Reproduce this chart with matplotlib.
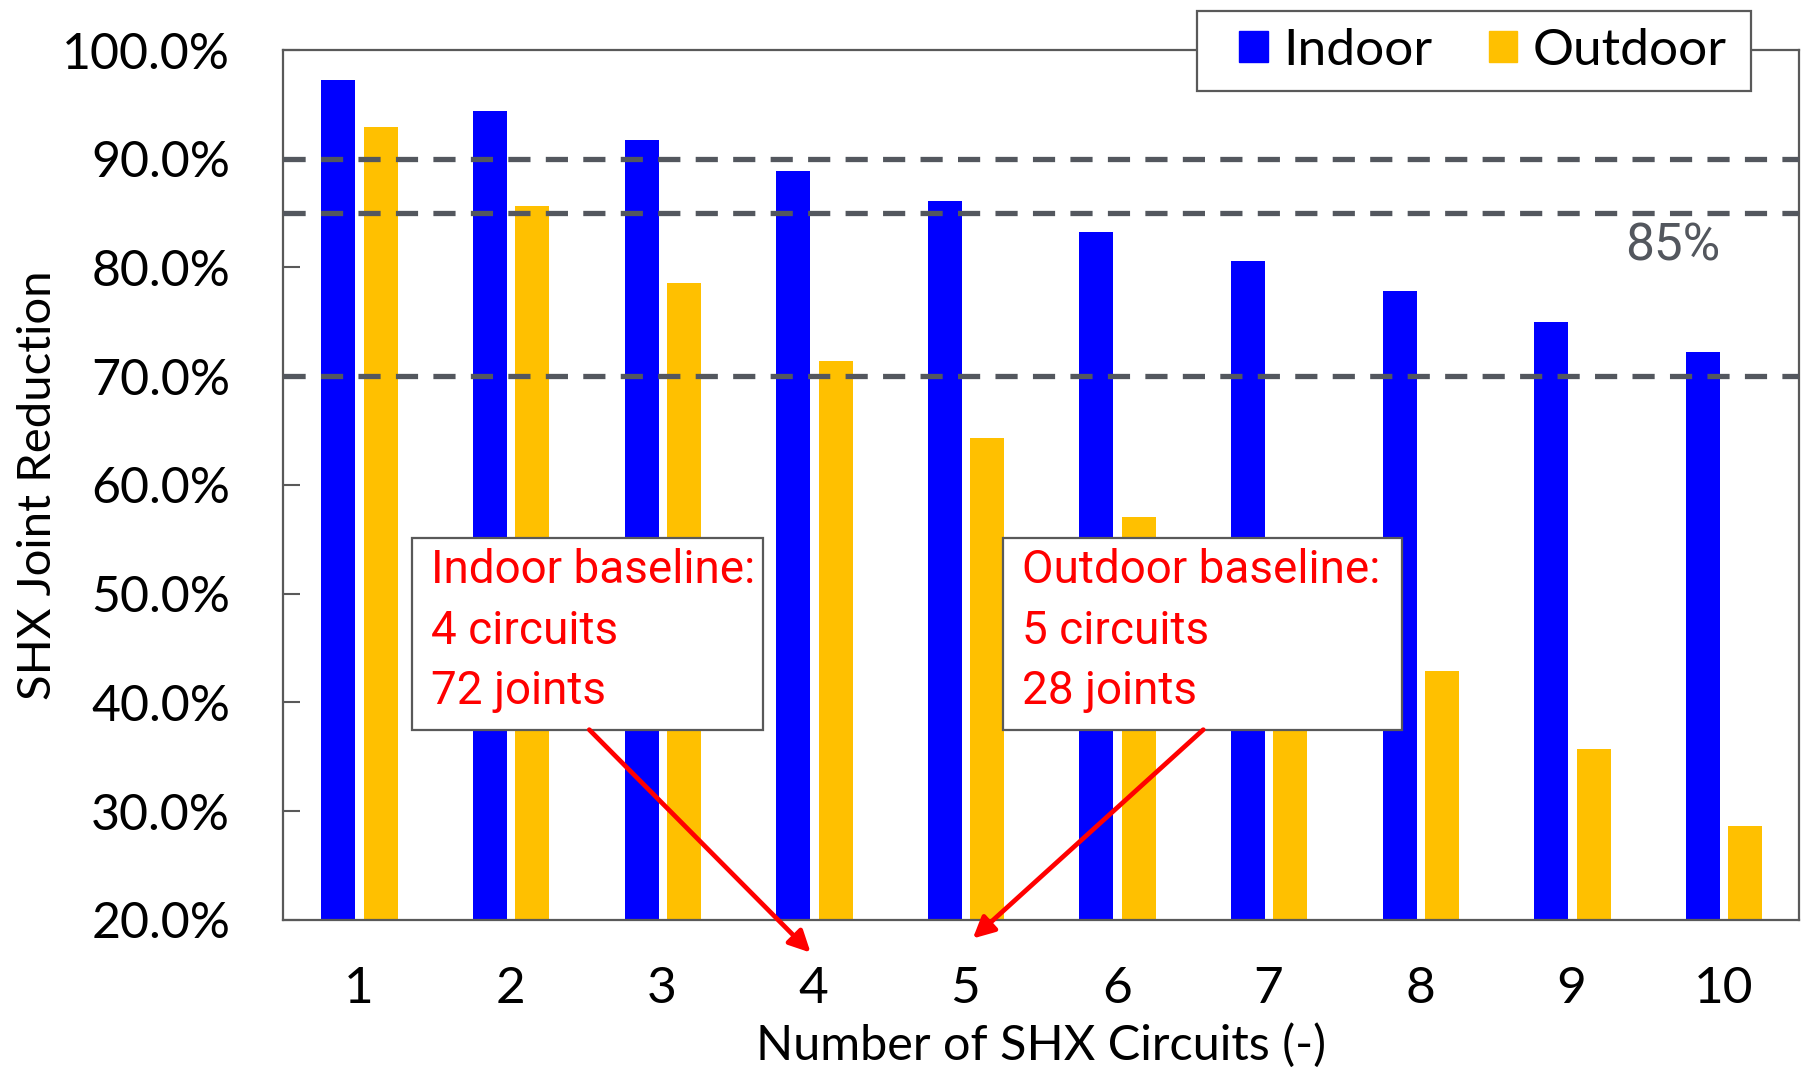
import matplotlib.pyplot as plt
from matplotlib.patches import Rectangle, Patch

# data
circuits = [1, 2, 3, 4, 5, 6, 7, 8, 9, 10]
indoor = [97.2, 94.4, 91.7, 88.9, 86.1, 83.3, 80.6, 77.8, 75.0, 72.2]
outdoor = [92.9, 85.7, 78.6, 71.4, 64.3, 57.1, 50.0, 42.9, 35.7, 28.6]
ref_lines = [90, 85, 70]
yticks = [20, 30, 40, 50, 60, 70, 80, 90, 100]

BLUE = '#0000ff'
GOLD = '#ffc000'
GREY = '#595959'
DASH = '#53575e'
RED = '#ff0000'
NARROW = ['Roboto', 'DejaVu Sans']

plt.rcParams['font.family'] = ['Lato', 'DejaVu Sans']

fig = plt.figure(figsize=(18.05, 10.73), dpi=100)
ax = fig.add_axes([0.1568, 0.1426, 0.8399, 0.8108])

w = 0.225
x_in = [c - 0.135 for c in circuits]
x_out = [c + 0.145 for c in circuits]
ax.bar(x_in, [v - 20 for v in indoor], bottom=20, width=w, color=BLUE, zorder=2)
ax.bar(x_out, [v - 20 for v in outdoor], bottom=20, width=w, color=GOLD, zorder=2)

for v in ref_lines:
    ax.axhline(v, color=DASH, lw=3.8, dashes=(4.2, 2.9), zorder=3)
ax.text(9.98, 81.9, '85%', color=DASH, fontsize=37, ha='right', va='center',
        family=NARROW)

ax.set_xlim(0.5, 10.5)
ax.set_ylim(20, 100)
ax.set_xticks(circuits)
ax.set_xticklabels([str(c) for c in circuits])
ax.set_yticks(yticks)
ax.set_yticklabels(['%.1f%%' % t for t in yticks])
ax.tick_params(axis='y', direction='in', length=12, width=1.5, color=GREY,
               labelsize=36, pad=38)
ax.tick_params(axis='x', length=0, labelsize=37, pad=33)
for s in ax.spines.values():
    s.set_color(GREY)
    s.set_linewidth(1.6)

ax.set_xlabel('Number of SHX Circuits (-)', fontsize=35, labelpad=8)
ax.set_ylabel('SHX Joint Reduction', fontsize=34, labelpad=2)

# annotation boxes with arrows to baseline circuit counts
notes = [
    (1.35, 2.314, ['Indoor baseline:', '4 circuits', '72 joints'], (2.52, 37.5), (3.98, 17.0)),
    (5.252, 2.63, ['Outdoor baseline:', '5 circuits', '28 joints'], (6.57, 37.5), (5.05, 18.3)),
]
for x0, bw, lines, start, tip in notes:
    ax.add_patch(Rectangle((x0, 37.47), bw, 17.66, facecolor='white',
                           edgecolor=GREY, lw=1.6, zorder=5))
    for line, yy in zip(lines, [52.2, 46.6, 41.1]):
        ax.text(x0 + 0.125, yy, line, color=RED, fontsize=33, va='center',
                ha='left', zorder=6, family=NARROW)
    ax.annotate('', xy=tip, xytext=start, annotation_clip=False,
                arrowprops=dict(arrowstyle='-|>', color=RED, lw=3.4,
                                mutation_scale=32, shrinkA=0, shrinkB=0),
                zorder=6)

# legend frame straddles the top spine
frame = Rectangle((1197 / 1805, 1 - 91 / 1073), 554 / 1805, 79.5 / 1073,
                  transform=fig.transFigure, facecolor='white', edgecolor=GREY,
                  lw=1.6, zorder=5)
fig.add_artist(frame)
handles = [Patch(color=BLUE, label='Indoor'), Patch(color=GOLD, label='Outdoor')]
leg = fig.legend(handles=handles, loc='center', bbox_to_anchor=(0.8216, 0.9525),
                 ncol=2, fontsize=37, frameon=False,
                 handlelength=0.55, handleheight=0.55, handletextpad=0.3,
                 columnspacing=1.1, borderpad=0.35, borderaxespad=0)
leg.set_zorder(6)

fig.savefig('out.png', dpi=100)
